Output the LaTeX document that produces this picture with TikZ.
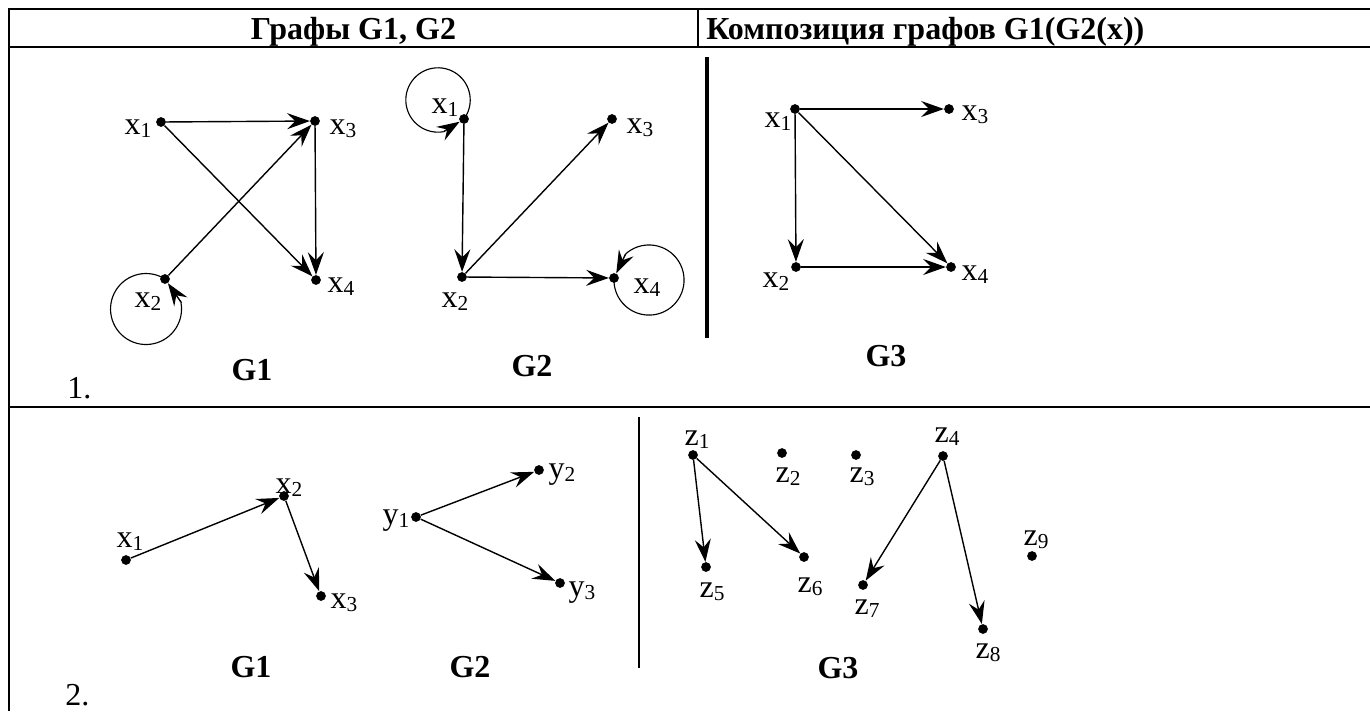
\documentclass[tikz,border=0pt]{standalone}
\usepackage{fontspec}
\setmainfont{Liberation Serif}
\usetikzlibrary{arrows.meta}
\newcommand{\lbl}[2]{#1\raisebox{-2.5pt}{\fontsize{16}{16}\selectfont #2}}
\begin{document}
\begin{tikzpicture}[x=0.75pt,y=-0.75pt,
  dot/.style={circle,fill=black,inner sep=0pt,minimum size=7.3pt},
  arr/.style={line width=1.05pt,-{Stealth[length=17pt,width=12pt,inset=6pt]}},
  loopln/.style={line width=0.85pt},
  lab/.style={anchor=base,inner sep=0pt,font=\fontsize{24}{28}\selectfont},
  gname/.style={anchor=base,inner sep=0pt,font=\fontsize{24}{28}\selectfont\bfseries},
  tbl/.style={line width=1.3pt},
  septhick/.style={line width=3pt},
  septhin/.style={line width=2.2pt}]
\useasboundingbox (0,0) rectangle (1370,711);
% table
\draw[tbl] (8,9) -- (1370,9);
\draw[tbl] (9,8) -- (9,711);
\draw[tbl] (9,47) -- (1370,47);
\draw[tbl] (9,407) -- (1370,407);
\draw[tbl] (698,9) -- (698,47);
\node[gname] (h1) at (353.5,39) {Графы G1, G2};
\node[gname,anchor=base west] (h2) at (706,39) {Композиция графов G1(G2(x))};
\node[lab,anchor=base west] (n1) at (67,398) {1.};
\node[lab,anchor=base west] (n2) at (65,705) {2.};
\draw[septhick] (707,57) -- (707,338);
\draw[septhin] (639,417) -- (639,668);
% ---- row 1, G1
\node[dot] (a1) at (161,122) {};
\node[dot] (a2) at (165,279) {};
\node[dot] (a3) at (315,121) {};
\node[dot] (a4) at (316,280) {};
\node[lab] (la1) at (138,134) {\lbl{x}{1}};
\node[lab] (la3) at (343,134) {\lbl{x}{3}};
\node[lab] (la4) at (341,292) {\lbl{x}{4}};
\node[lab] (la2) at (148,307) {\lbl{x}{2}};
\draw[arr] (a1) -- (a3);
\draw[arr] (a1) -- (a4);
\draw[arr] (a2) -- (a3);
\draw[arr] (a3) -- (a4);
\draw[loopln] (a2.center) arc[start angle=-57.7, delta angle=-312, radius=35.5];
\coordinate (a2t) at (181.5,302.8);
\draw[arr] (a2t) -- (a2);
\node[gname] (g1a) at (252,380) {G1};
% ---- row 1, G2
\node[dot] (b1) at (464,119) {};
\node[dot] (b2) at (462,277) {};
\node[dot] (b3) at (612,119) {};
\node[dot] (b4) at (614,278) {};
\node[lab] (lb1) at (445,113) {\lbl{x}{1}};
\node[lab] (lb3) at (640,133) {\lbl{x}{3}};
\node[lab] (lb4) at (647,293) {\lbl{x}{4}};
\node[lab] (lb2) at (455,307) {\lbl{x}{2}};
\draw[arr] (b1) -- (b2);
\draw[arr] (b2) -- (b3);
\draw[arr] (b2) -- (b4);
\draw[loopln] (b1.center) arc[start angle=36.2, delta angle=-316, radius=32.2];
\coordinate (b1t) at (443.6,131.7);
\draw[arr] (b1t) -- (b1);
\draw[loopln] (b4.center) arc[start angle=183.3, delta angle=-315, radius=35.06];
\coordinate (b4t) at (625.7,253.8);
\draw[arr] (b4t) -- (b4);
\node[gname] (g2a) at (532,376) {G2};
% ---- row 1, G3
\node[dot] (c1) at (795,109) {};
\node[dot] (c2) at (796,267) {};
\node[dot] (c3) at (949,109) {};
\node[dot] (c4) at (951,267) {};
\node[lab] (lc1) at (778,127) {\lbl{x}{1}};
\node[lab] (lc3) at (975,120) {\lbl{x}{3}};
\node[lab] (lc2) at (776,287) {\lbl{x}{2}};
\node[lab] (lc4) at (975,280) {\lbl{x}{4}};
\draw[arr] (c1) -- (c3);
\draw[arr] (c1) -- (c2);
\draw[arr] (c1) -- (c4);
\draw[arr] (c2) -- (c4);
\node[gname] (g3a) at (886,366) {G3};
% ---- row 2, G1
\node[dot] (d1) at (126,560) {};
\node[dot] (d2) at (284,496) {};
\node[dot] (d3) at (321,596) {};
\node[lab] (ld1) at (130,547) {\lbl{x}{1}};
\node[lab] (ld2) at (289,493) {\lbl{x}{2}};
\node[lab] (ld3) at (344,608) {\lbl{x}{3}};
\draw[arr] (d1) -- (d2);
\draw[arr] (d2) -- (d3);
\node[gname] (g1b) at (251,677) {G1};
% ---- row 2, G2
\node[dot] (e1) at (416,517) {};
\node[dot] (e2) at (539,470) {};
\node[dot] (e3) at (560,583) {};
\node[lab] (le1) at (396,524) {\lbl{y}{1}};
\node[lab] (le2) at (562,478) {\lbl{y}{2}};
\node[lab] (le3) at (582,596) {\lbl{y}{3}};
\draw[arr] (e1) -- (e2);
\draw[arr] (e1) -- (e3);
\node[gname] (g2b) at (470,677) {G2};
% ---- row 2, G3
\node[dot] (z1) at (693,455) {};
\node[dot] (z2) at (782,453) {};
\node[dot] (z3) at (856,455) {};
\node[dot] (z4) at (943,456) {};
\node[dot] (z5) at (706,567) {};
\node[dot] (z6) at (804,557) {};
\node[dot] (z7) at (863,585) {};
\node[dot] (z8) at (983,629) {};
\node[dot] (z9) at (1032,556) {};
\node[lab] (lz1) at (697,445) {\lbl{z}{1}};
\node[lab] (lz2) at (788,482) {\lbl{z}{2}};
\node[lab] (lz3) at (862,482) {\lbl{z}{3}};
\node[lab] (lz4) at (947,442) {\lbl{z}{4}};
\node[lab] (lz5) at (712,597) {\lbl{z}{5}};
\node[lab] (lz6) at (810,592) {\lbl{z}{6}};
\node[lab] (lz7) at (867,614) {\lbl{z}{7}};
\node[lab] (lz8) at (988,658) {\lbl{z}{8}};
\node[lab] (lz9) at (1036,545) {\lbl{z}{9}};
\draw[arr] (z1) -- (z5);
\draw[arr] (z1) -- (z6);
\draw[arr] (z4) -- (z7);
\draw[arr] (z4) -- (z8);
\node[gname] (g3b) at (838,678) {G3};
\end{tikzpicture}
\end{document}
